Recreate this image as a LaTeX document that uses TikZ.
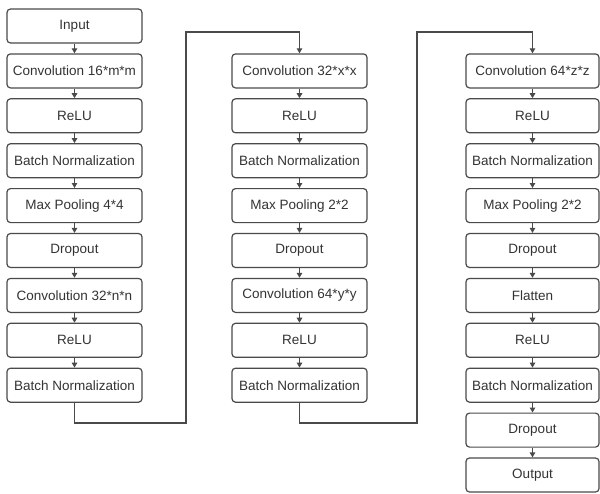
\documentclass[tikz,border=0pt]{standalone}
\usepackage{fontspec}
\setmainfont{Liberation Sans}
\usetikzlibrary{arrows.meta}
\definecolor{linegray}{HTML}{4A4A4A}
\definecolor{textgray}{HTML}{333333}
\begin{document}
\begin{tikzpicture}[x=1pt,y=-1pt,
  layer/.style={draw=linegray, line width=1.2pt, rounded corners=3.5pt,
    minimum width=135pt, minimum height=34pt, inner sep=0pt,
    text=textgray, font=\fontsize{13.5}{14}\selectfont},
  flow/.style={draw=linegray, line width=1.2pt,
    -{Triangle[length=5pt,width=5.5pt]}}]
\useasboundingbox (0,0) rectangle (600,493);
% column 1
\foreach \i/\t in {0/Input,1/Convolution 16*m*m,2/ReLU,3/Batch Normalization,
  4/Max Pooling 4*4,5/Dropout,6/Convolution 32*n*n,7/ReLU,8/Batch Normalization}
  \node[layer] (a\i) at (74.5,{26+44.9*\i}) {\t};
% column 2
\foreach \i/\t in {1/Convolution 32*x*x,2/ReLU,3/Batch Normalization,
  4/Max Pooling 2*2,5/Dropout,6/Convolution 64*y*y,7/ReLU,8/Batch Normalization}
  \node[layer] (b\i) at (299.5,{26+44.9*\i}) {\t};
% column 3
\foreach \i/\t in {1/Convolution 64*z*z,2/ReLU,3/Batch Normalization,
  4/Max Pooling 2*2,5/Dropout,6/Flatten,7/ReLU,8/Batch Normalization,
  9/Dropout,10/Output}
  \node[layer, minimum width=133pt] (c\i) at (532.5,{26+44.9*\i}) {\t};
% straight arrows
\foreach \i [evaluate=\i as \j using int(\i+1)] in {0,...,7}
  \draw[flow] (a\i) -- (a\j);
\foreach \i [evaluate=\i as \j using int(\i+1)] in {1,...,7}
  \draw[flow] (b\i) -- (b\j);
\foreach \i [evaluate=\i as \j using int(\i+1)] in {1,...,9}
  \draw[flow] (c\i) -- (c\j);
% loops between columns
\coordinate (ja) at (186,423);
\coordinate (jb) at (186,32);
\coordinate (ka) at (417,423);
\coordinate (kb) at (417,32);
\draw[flow] (a8.south) |- (ja) -- (jb) -| (b1.north);
\draw[flow] (b8.south) |- (ka) -- (kb) -| (c1.north);
\end{tikzpicture}
\end{document}
